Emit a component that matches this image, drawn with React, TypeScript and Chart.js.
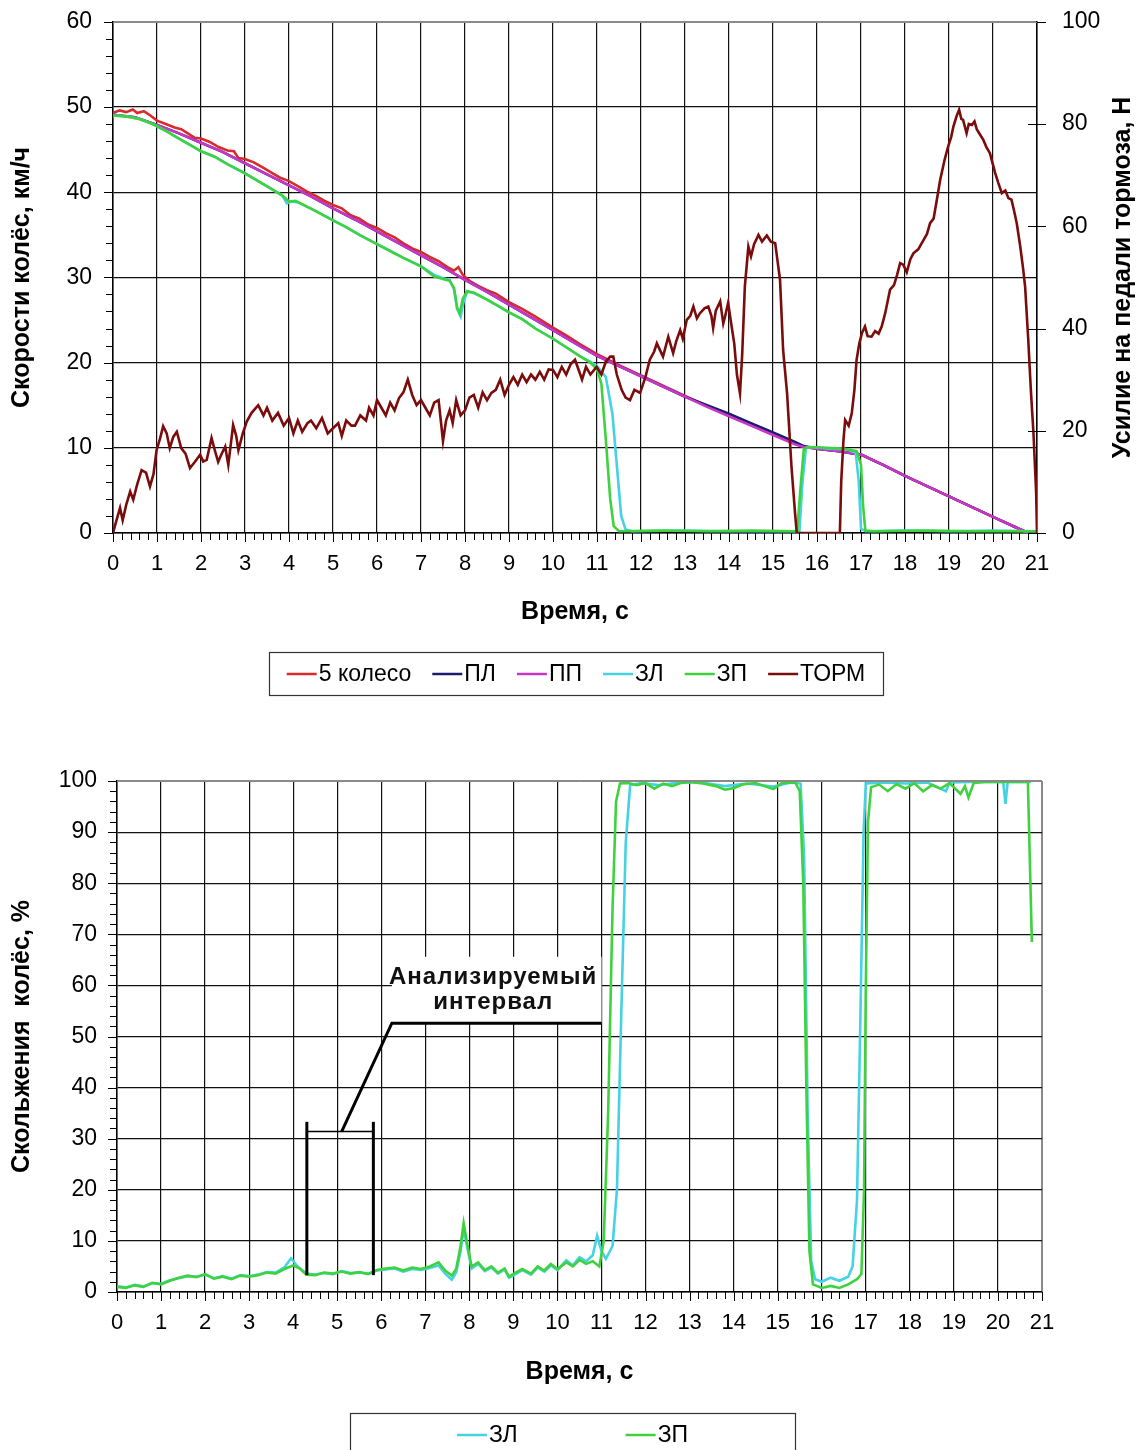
import React, { useEffect, useRef } from "react";
import { Chart, registerables } from "chart.js";

Chart.register(...registerables);

type Pt = [number, number];

// ---------------- axes ----------------
const TIME_RANGE: Pt = [0, 21];
const TIME_STEP = 1;
const TIME_MINOR = 0.2;
const SPEED_RANGE: Pt = [0, 60];
const SPEED_STEP = 10;
const SPEED_MINOR = 2;
const FORCE_RANGE: Pt = [0, 100];
const FORCE_STEP = 20;
const SLIP_RANGE: Pt = [0, 100];
const SLIP_STEP = 10;
const SLIP_MINOR = 2;

const X_TITLE = "Время, с";
const SPEED_TITLE = "Скорости колёс, км/ч";
const FORCE_TITLE = "Усилие на педали тормоза, Н";
const SLIP_TITLE = "Скольжения  колёс, %";

// ---------------- chart 1 series: [time s, value] ----------------
const WHEEL5: Pt[] = [
  [0, 49.3], [0.15, 49.6], [0.3, 49.4], [0.45, 49.7], [0.55, 49.3], [0.7, 49.5], [0.85, 49.0], [1.0, 48.4],
  [1.2, 48.0], [1.4, 47.6], [1.55, 47.4], [1.7, 46.9], [1.85, 46.4], [2.0, 46.3], [2.2, 45.9], [2.4, 45.3],
  [2.6, 44.9], [2.75, 44.8], [2.85, 44.0], [3.0, 43.9], [3.2, 43.5], [3.4, 42.9], [3.6, 42.3], [3.8, 41.7],
  [4.0, 41.3], [4.2, 40.7], [4.4, 40.1], [4.6, 39.6], [4.8, 39.0], [5.0, 38.5], [5.2, 38.1], [5.4, 37.3],
  [5.6, 36.9], [5.8, 36.2], [6.0, 35.8], [6.2, 35.2], [6.4, 34.7], [6.6, 34.0], [6.8, 33.4], [7.0, 33.0],
  [7.2, 32.4], [7.4, 31.9], [7.6, 31.2], [7.75, 30.8], [7.85, 31.2], [7.95, 30.3], [8.1, 29.6], [8.3, 29.0],
  [8.5, 28.5], [8.7, 28.1], [9.0, 27.1], [9.3, 26.3], [9.6, 25.4], [10.0, 24.1], [10.3, 23.2], [10.6, 22.2],
  [11.0, 21.0], [11.5, 19.7], [12, 18.5], [12.5, 17.3], [13, 16.1], [13.5, 14.9], [14, 13.8], [14.5, 12.7],
  [15, 11.6], [15.5, 10.5], [15.7, 10.1], [16, 9.9], [16.5, 9.6], [17, 9.2], [17.5, 8.0], [18, 6.7],
  [18.5, 5.5], [19, 4.3], [19.5, 3.1], [20, 1.9], [20.5, 0.7], [20.8, 0],
];

const FRONT_LEFT: Pt[] = [
  [0, 49.1], [0.5, 48.8], [1, 47.9], [1.5, 46.9], [2, 45.8], [2.5, 44.7], [3, 43.4], [3.5, 42.1], [4, 40.8],
  [4.5, 39.5], [5, 38.1], [5.5, 36.8], [6, 35.4], [6.5, 34.0], [7, 32.6], [7.5, 31.2], [8, 29.7], [8.5, 28.3],
  [9, 26.8], [9.5, 25.3], [10, 23.8], [10.5, 22.3], [11, 20.8], [11.5, 19.6], [12, 18.4], [12.5, 17.2],
  [13, 16.0], [13.5, 15.0], [14, 14.0], [14.5, 12.9], [15, 11.8], [15.5, 10.7], [15.7, 10.2], [16, 9.9],
  [16.5, 9.6], [17, 9.2], [17.5, 8.0], [18, 6.7], [18.5, 5.5], [19, 4.3], [19.5, 3.1], [20, 1.9], [20.5, 0.7],
  [20.8, 0],
];

const FRONT_RIGHT: Pt[] = [
  [0, 49.1], [0.5, 48.8], [1, 47.9], [1.5, 46.9], [2, 45.8], [2.5, 44.7], [3, 43.4], [3.5, 42.1], [4, 40.8],
  [4.5, 39.5], [5, 38.1], [5.5, 36.8], [6, 35.4], [6.5, 34.0], [7, 32.6], [7.5, 31.2], [8, 29.7], [8.5, 28.3],
  [9, 26.8], [9.5, 25.3], [10, 23.8], [10.5, 22.3], [11, 20.8], [11.5, 19.6], [12, 18.4], [12.5, 17.2],
  [13, 16.0], [13.5, 14.8], [14, 13.7], [14.5, 12.6], [15, 11.5], [15.5, 10.4], [15.7, 10.1], [16, 9.9],
  [16.5, 9.6], [17, 9.2], [17.5, 8.0], [18, 6.7], [18.5, 5.5], [19, 4.3], [19.5, 3.1], [20, 1.9], [20.5, 0.7],
  [20.8, 0],
];

const REAR_LEFT: Pt[] = [
  [0, 49.0], [0.3, 48.9], [0.6, 48.6], [0.9, 48.0], [1.2, 47.2], [1.5, 46.3], [1.8, 45.4], [2.0, 44.8],
  [2.3, 44.2], [2.6, 43.3], [3.0, 42.2], [3.3, 41.3], [3.6, 40.4], [3.85, 39.6], [3.95, 38.7], [4.05, 38.9],
  [4.2, 38.8], [4.6, 37.8], [5.0, 36.7], [5.3, 35.9], [5.6, 35.0], [6.0, 33.9], [6.3, 33.1], [6.6, 32.3],
  [7.0, 31.3], [7.3, 30.3], [7.5, 29.9], [7.65, 29.7], [7.75, 28.6], [7.82, 26.3], [7.9, 25.4], [7.97, 27.2],
  [8.05, 28.3], [8.2, 28.2], [8.5, 27.4], [8.8, 26.5], [9.0, 25.9], [9.3, 25.1], [9.6, 24.0], [10.0, 22.8],
  [10.3, 21.8], [10.6, 20.8], [10.85, 20.1], [11.0, 19.6], [11.2, 18.3], [11.35, 14.0], [11.45, 8.0],
  [11.55, 2.0], [11.65, 0.4], [11.8, 0.2], [13, 0.3], [14, 0.2], [15.6, 0.2], [15.67, 6.0], [15.75, 10.0],
  [15.9, 10.1], [16.3, 9.9], [16.7, 9.8], [16.88, 9.4], [16.95, 6.0], [17.0, 0.5], [17.1, 0.2], [18, 0.3],
  [19, 0.2], [20, 0.3], [21, 0.2],
];

const REAR_RIGHT: Pt[] = [
  [0, 49.0], [0.3, 48.9], [0.6, 48.6], [0.9, 48.0], [1.2, 47.2], [1.5, 46.3], [1.8, 45.4], [2.0, 44.8],
  [2.3, 44.2], [2.6, 43.3], [3.0, 42.2], [3.3, 41.3], [3.6, 40.4], [3.85, 39.6], [4.0, 38.9], [4.15, 39.0],
  [4.3, 38.6], [4.6, 37.8], [5.0, 36.7], [5.3, 35.9], [5.6, 35.0], [6.0, 33.9], [6.3, 33.1], [6.6, 32.3],
  [7.0, 31.3], [7.3, 30.1], [7.5, 29.8], [7.65, 29.6], [7.75, 28.8], [7.82, 26.5], [7.88, 25.8], [7.95, 27.5],
  [8.05, 28.4], [8.2, 28.2], [8.5, 27.4], [8.8, 26.5], [9.0, 25.9], [9.3, 25.1], [9.6, 24.0], [10.0, 22.8],
  [10.3, 21.8], [10.6, 20.8], [10.85, 20.0], [11.0, 19.2], [11.1, 17.5], [11.2, 11.0], [11.3, 4.0],
  [11.38, 0.8], [11.5, 0.2], [12.5, 0.3], [13.5, 0.2], [14.5, 0.3], [15.55, 0.2], [15.62, 5.0], [15.7, 9.8],
  [15.8, 10.1], [16.2, 10.0], [16.6, 9.9], [16.9, 9.6], [17.0, 8.0], [17.05, 3.0], [17.1, 0.3], [17.3, 0.2],
  [18.5, 0.3], [19.5, 0.2], [21, 0.2],
];

const BRAKE_FORCE: Pt[] = [
  [0, 0], [0.08, 2.5], [0.16, 4.9], [0.22, 2.5], [0.3, 5.5], [0.39, 8.1], [0.46, 6.5], [0.55, 9.5], [0.65, 12.3],
  [0.75, 11.8], [0.84, 9.1], [0.92, 11.5], [0.99, 16.2], [1.07, 18.5], [1.14, 20.9], [1.22, 19.5], [1.29, 16.6],
  [1.37, 18.8], [1.45, 19.8], [1.55, 16.6], [1.65, 15.5], [1.75, 12.7], [1.85, 13.8], [1.98, 15.3], [2.05, 14.0],
  [2.13, 14.3], [2.24, 18.6], [2.32, 16.0], [2.39, 13.9], [2.47, 15.5], [2.55, 16.9], [2.62, 13.3], [2.73, 21.1],
  [2.8, 19.0], [2.85, 16.2], [2.95, 19.5], [3.04, 21.8], [3.15, 23.5], [3.3, 25.0], [3.42, 23.0], [3.5, 24.5],
  [3.62, 22.0], [3.75, 23.5], [3.88, 21.0], [4.0, 22.5], [4.1, 19.5], [4.2, 22.0], [4.3, 19.8], [4.42, 21.5],
  [4.5, 22.0], [4.62, 20.5], [4.75, 22.5], [4.88, 19.5], [5.0, 20.5], [5.12, 21.5], [5.2, 19.0], [5.3, 22.0],
  [5.42, 21.0], [5.5, 21.0], [5.62, 23.0], [5.75, 22.0], [5.82, 24.5], [5.92, 23.0], [6.0, 26.0], [6.1, 24.5],
  [6.2, 23.0], [6.3, 25.5], [6.4, 24.0], [6.5, 26.4], [6.6, 27.5], [6.7, 30.0], [6.8, 27.0], [6.9, 25.0],
  [7.0, 26.0], [7.1, 24.5], [7.2, 23.0], [7.3, 25.5], [7.4, 26.0], [7.5, 18.0], [7.57, 22.0], [7.65, 24.0],
  [7.72, 21.5], [7.8, 26.0], [7.9, 23.0], [8.0, 24.0], [8.1, 26.5], [8.2, 27.0], [8.3, 24.5], [8.4, 27.5],
  [8.5, 26.0], [8.6, 27.4], [8.7, 28.0], [8.8, 30.0], [8.9, 27.0], [9.0, 29.0], [9.1, 30.5], [9.2, 29.0],
  [9.3, 31.0], [9.4, 29.5], [9.5, 31.0], [9.6, 30.0], [9.7, 31.5], [9.8, 30.0], [9.9, 32.0], [10.0, 31.9],
  [10.1, 30.5], [10.2, 32.5], [10.3, 31.0], [10.4, 33.0], [10.5, 33.9], [10.6, 31.5], [10.66, 30.0],
  [10.75, 32.5], [10.85, 31.0], [10.99, 32.5], [11.1, 31.0], [11.2, 33.5], [11.3, 34.5], [11.37, 34.5],
  [11.45, 31.0], [11.56, 28.0], [11.65, 26.5], [11.75, 26.0], [11.85, 28.0], [11.98, 27.4], [12.1, 30.5],
  [12.2, 33.9], [12.3, 35.5], [12.36, 37.1], [12.5, 34.5], [12.62, 38.4], [12.73, 35.2], [12.8, 37.5],
  [12.89, 39.7], [12.95, 38.0], [13.04, 41.7], [13.12, 42.5], [13.19, 44.3], [13.27, 42.0], [13.34, 43.0],
  [13.45, 44.0], [13.53, 44.3], [13.6, 42.5], [13.64, 40.1], [13.7, 43.5], [13.8, 45.3], [13.87, 41.0],
  [13.91, 42.3], [13.98, 45.0], [14.06, 40.4], [14.12, 37.0], [14.18, 31.0], [14.25, 27.3], [14.3, 35.0],
  [14.36, 48.2], [14.44, 56.0], [14.5, 54.1], [14.57, 56.5], [14.67, 58.3], [14.75, 57.0], [14.86, 58.2],
  [14.95, 57.0], [15.05, 56.7], [15.12, 52.1], [15.16, 49.5], [15.23, 35.8], [15.32, 27.3], [15.42, 13.0],
  [15.5, 4.0], [15.54, 0], [16.52, 0], [16.55, 10.0], [16.6, 18.0], [16.64, 22.1], [16.72, 21.0], [16.79, 23.4],
  [16.85, 28.0], [16.9, 33.9], [16.96, 37.0], [17.02, 39.1], [17.09, 40.4], [17.15, 38.5], [17.24, 38.4],
  [17.32, 39.5], [17.4, 39.0], [17.47, 40.4], [17.55, 43.0], [17.66, 47.6], [17.75, 48.5], [17.82, 50.5],
  [17.89, 52.8], [17.96, 52.5], [18.04, 51.0], [18.12, 53.5], [18.19, 54.7], [18.3, 55.5], [18.42, 57.3],
  [18.5, 58.5], [18.57, 60.6], [18.65, 61.5], [18.72, 65.0], [18.8, 69.1], [18.9, 73.0], [18.98, 75.6],
  [19.05, 77.5], [19.1, 79.5], [19.17, 81.5], [19.23, 82.8], [19.28, 81.0], [19.32, 80.8], [19.4, 78.2],
  [19.45, 80.0], [19.52, 79.8], [19.58, 80.5], [19.63, 79.0], [19.7, 78.0], [19.78, 76.9], [19.85, 75.5],
  [19.93, 74.3], [20.0, 72.0], [20.05, 70.4], [20.12, 68.5], [20.2, 66.5], [20.28, 67.0], [20.35, 65.5],
  [20.42, 65.2], [20.48, 63.0], [20.54, 60.6], [20.62, 56.0], [20.68, 52.0], [20.73, 48.2], [20.8, 38.0],
  [20.86, 28.0], [20.92, 19.5], [20.98, 8.0], [21.0, 0],
];

const SERIES1_LABELS = ["5 колесо", "ПЛ", "ПП", "ЗЛ", "ЗП", "ТОРМ"];
const SERIES1_COLORS = ["#d92b2b", "#1b1b70", "#c836c8", "#45d2e2", "#3fd23f", "#7a0c0c"];
const SERIES1_DATA = [WHEEL5, FRONT_LEFT, FRONT_RIGHT, REAR_LEFT, REAR_RIGHT, BRAKE_FORCE];
const SERIES1_AXIS = ["y", "y", "y", "y", "y", "y1"];
const SERIES1_ORDER = [6, 5, 4, 3, 2, 1];

// ---------------- chart 2 series: slip % ----------------
const SLIP_REAR_LEFT: Pt[] = [
  [0, 1.1], [0.2, 0.9], [0.4, 1.4], [0.6, 1.1], [0.8, 1.7], [1.0, 1.6], [1.2, 2.3], [1.4, 2.7], [1.6, 3.1],
  [1.8, 3.0], [2.0, 3.4], [2.2, 2.7], [2.4, 3.1], [2.6, 2.6], [2.8, 3.3], [3.0, 3.1], [3.2, 3.4], [3.4, 3.9],
  [3.6, 3.8], [3.8, 4.8], [3.95, 6.6], [4.1, 5.0], [4.3, 3.6], [4.5, 3.4], [4.7, 3.7], [4.9, 3.5], [5.1, 4.1],
  [5.3, 3.7], [5.5, 3.8], [5.7, 3.6], [5.9, 4.2], [6.1, 4.4], [6.3, 4.6], [6.5, 4.0], [6.7, 4.5], [6.9, 4.3],
  [7.1, 4.7], [7.3, 5.2], [7.45, 3.6], [7.6, 2.4], [7.7, 3.8], [7.8, 8.0], [7.87, 12.3], [7.95, 8.8],
  [8.05, 4.6], [8.2, 5.5], [8.35, 4.1], [8.5, 4.8], [8.65, 3.6], [8.8, 4.4], [8.9, 2.8], [9.05, 3.5],
  [9.2, 4.3], [9.4, 3.4], [9.55, 4.8], [9.7, 4.0], [9.85, 5.2], [10.0, 4.3], [10.2, 6.2], [10.35, 5.2],
  [10.5, 6.8], [10.65, 6.0], [10.8, 7.2], [10.9, 11.0], [11.0, 8.0], [11.1, 6.5], [11.25, 9.0], [11.35, 20],
  [11.45, 55], [11.55, 88], [11.65, 99.2], [11.9, 99.6], [12.3, 99.2], [12.7, 99.6], [13.2, 99.8],
  [13.8, 99.0], [14.3, 99.5], [14.9, 98.9], [15.3, 99.7], [15.52, 99.5], [15.6, 85], [15.68, 35], [15.76, 6],
  [15.85, 2.5], [16.0, 2.0], [16.2, 2.8], [16.4, 2.2], [16.6, 3.0], [16.7, 5.0], [16.8, 18], [16.88, 55],
  [16.95, 90], [17.0, 99.5], [17.4, 99.7], [17.9, 99.5], [18.4, 99.7], [18.82, 98.0], [18.9, 99.7],
  [19.4, 99.8], [20.0, 99.8], [20.12, 99.8], [20.17, 95.5], [20.22, 99.8], [20.75, 99.8],
];

const SLIP_REAR_RIGHT: Pt[] = [
  [0, 1.0], [0.2, 0.8], [0.4, 1.3], [0.6, 1.0], [0.8, 1.8], [1.0, 1.5], [1.2, 2.2], [1.4, 2.8], [1.6, 3.2],
  [1.8, 2.9], [2.0, 3.5], [2.2, 2.6], [2.4, 3.0], [2.6, 2.5], [2.8, 3.2], [3.0, 3.0], [3.2, 3.3], [3.4, 3.8],
  [3.6, 3.6], [3.8, 4.5], [4.0, 5.2], [4.15, 4.6], [4.3, 3.4], [4.5, 3.3], [4.7, 3.8], [4.9, 3.6], [5.1, 4.0],
  [5.3, 3.6], [5.5, 3.9], [5.7, 3.5], [5.9, 4.3], [6.1, 4.6], [6.3, 4.8], [6.5, 4.2], [6.7, 4.8], [6.9, 4.5],
  [7.1, 5.0], [7.3, 5.8], [7.45, 4.2], [7.6, 3.2], [7.7, 4.5], [7.8, 9.0], [7.87, 13.5], [7.95, 9.5],
  [8.05, 5.0], [8.2, 5.8], [8.35, 4.3], [8.5, 5.0], [8.65, 3.8], [8.8, 4.6], [8.9, 3.0], [9.05, 3.8],
  [9.2, 4.5], [9.4, 3.6], [9.55, 5.0], [9.7, 4.2], [9.85, 5.5], [10.0, 4.5], [10.2, 5.8], [10.35, 5.0],
  [10.5, 6.3], [10.65, 5.5], [10.8, 6.0], [10.95, 5.0], [11.05, 10], [11.15, 35], [11.25, 75], [11.33, 96],
  [11.42, 99.5], [11.6, 99.6], [11.8, 99.2], [12.0, 99.6], [12.2, 98.5], [12.4, 99.5], [12.6, 99.0],
  [12.8, 99.6], [13.0, 99.8], [13.3, 99.5], [13.6, 99.0], [13.8, 98.3], [14.0, 98.6], [14.2, 99.3],
  [14.5, 99.6], [14.7, 99.0], [14.9, 98.4], [15.1, 99.6], [15.4, 99.7], [15.5, 98], [15.58, 80], [15.65, 40],
  [15.72, 8], [15.8, 1.5], [16.0, 0.8], [16.2, 1.2], [16.4, 0.8], [16.6, 1.5], [16.8, 2.5], [16.9, 3.5],
  [16.96, 20], [17.0, 60], [17.05, 92], [17.12, 98.8], [17.3, 99.3], [17.5, 98.0], [17.7, 99.4], [17.9, 98.5],
  [18.1, 99.6], [18.3, 98.0], [18.5, 99.2], [18.7, 98.5], [18.9, 99.6], [19.15, 97.5], [19.25, 99],
  [19.33, 96.8], [19.45, 99.6], [19.7, 99.8], [20.0, 99.8], [20.3, 99.8], [20.68, 99.8], [20.77, 68.5],
];

const SERIES2_LABELS = ["ЗЛ", "ЗП"];
const SERIES2_COLORS = ["#45d2e2", "#3fd23f"];
const SERIES2_DATA = [SLIP_REAR_LEFT, SLIP_REAR_RIGHT];

// annotation (data space of chart 2: time s, slip %)
const ANNOT_BARS_X = [4.31, 5.82];
const ANNOT_BARS_Y: Pt = [3.3, 33.3];
const ANNOT_JOIN_Y = 31.4;
const ANNOT_LEADER: Pt[] = [[5.1, 31.4], [6.24, 52.6], [11.0, 52.6]];
const ANNOT_TEXT = ["Анализируемый", "интервал"];
const ANNOT_TEXT_X = 8.54;
const ANNOT_TEXT_Y = [61.6, 56.6];
const ANNOT_TEXT_BG: Pt[] = [[6.24, 65.6], [11.0, 52.6]];

// ---------------- helpers ----------------
const FONT = "'Liberation Sans', Arial, sans-serif";
const CHART1_SHIFT = 17; // canvas 1 starts this many px above the page top

const toXY = (pts: Pt[]) => pts.map(([x, y]) => ({ x, y }));

function line(ctx: CanvasRenderingContext2D, x1: number, y1: number, x2: number, y2: number) {
  ctx.beginPath();
  ctx.moveTo(x1, y1);
  ctx.lineTo(x2, y2);
  ctx.stroke();
}

type DecoCfg = {
  xMinor: number;
  yMinor: number;
  crossTicksY1?: boolean;
  rightTitle?: string;
  rightTitleX?: number;
  greyRight?: boolean;
  legend: { x: number; y: number; w: number; h: number; gap: number };
  annotation?: boolean;
};

function makeDeco(cfg: DecoCfg) {
  return {
    id: "deco",
    afterDatasetsDraw(chart: any) {
      if (!cfg.annotation) return;
      const { ctx, scales } = chart;
      const sx = scales.x;
      const sy = scales.y;
      const X = (v: number) => sx.getPixelForValue(v);
      const Y = (v: number) => sy.getPixelForValue(v);
      ctx.save();
      ctx.fillStyle = "#fff";
      const [[bx1, by1], [bx2, by2]] = ANNOT_TEXT_BG;
      ctx.fillRect(X(bx1), Y(by1), X(bx2) - X(bx1), Y(by2) - Y(by1));
      ctx.strokeStyle = "#000";
      ctx.lineCap = "butt";
      ctx.lineWidth = 3;
      for (const bx of ANNOT_BARS_X) line(ctx, X(bx), Y(ANNOT_BARS_Y[0]), X(bx), Y(ANNOT_BARS_Y[1]));
      ctx.lineWidth = 1.5;
      line(ctx, X(ANNOT_BARS_X[0]), Y(ANNOT_JOIN_Y), X(ANNOT_BARS_X[1]), Y(ANNOT_JOIN_Y));
      ctx.lineWidth = 3;
      ctx.beginPath();
      ANNOT_LEADER.forEach(([lx, ly], i) => (i ? ctx.lineTo(X(lx), Y(ly)) : ctx.moveTo(X(lx), Y(ly))));
      ctx.stroke();
      ctx.fillStyle = "#111";
      ctx.font = `bold 24px ${FONT}`;
      (ctx as any).letterSpacing = "1px";
      ctx.textAlign = "center";
      ctx.textBaseline = "middle";
      ANNOT_TEXT.forEach((t, i) => ctx.fillText(t, X(ANNOT_TEXT_X), Y(ANNOT_TEXT_Y[i])));
      ctx.restore();
    },
    afterDraw(chart: any) {
      const { ctx, chartArea: a, scales } = chart;
      ctx.save();
      ctx.strokeStyle = "#000";
      ctx.lineWidth = 1;
      const sx = scales.x;
      const n = Math.round((sx.max - sx.min) / cfg.xMinor);
      const perMajor = Math.round(1 / cfg.xMinor);
      for (let i = 0; i <= n; i++) {
        const px = Math.round(sx.getPixelForValue(sx.min + i * cfg.xMinor)) + 0.5;
        line(ctx, px, a.bottom, px, a.bottom + (i % perMajor === 0 ? 9 : 7));
      }
      const sy = scales.y;
      const m = Math.round((sy.max - sy.min) / cfg.yMinor);
      for (let i = 0; i <= m; i++) {
        const py = Math.round(sy.getPixelForValue(sy.min + i * cfg.yMinor)) + 0.5;
        const major = i % 5 === 0;
        line(ctx, a.left - (major ? 9 : 7), py, a.left, py);
      }
      if (cfg.crossTicksY1 && scales.y1) {
        const s1 = scales.y1;
        s1.ticks.forEach((t: any) => {
          const py = Math.round(s1.getPixelForValue(t.value)) + 0.5;
          line(ctx, a.right - 9, py, a.right + 9, py);
        });
      }
      ctx.strokeStyle = "#8a8a8a";
      line(ctx, a.left, Math.round(a.top) + 0.5, a.right, Math.round(a.top) + 0.5);
      if (cfg.greyRight) line(ctx, Math.round(a.right) + 0.5, a.top, Math.round(a.right) + 0.5, a.bottom);
      if (cfg.rightTitle) {
        ctx.save();
        ctx.translate(cfg.rightTitleX || 0, (a.top + a.bottom) / 2);
        ctx.rotate(-Math.PI / 2);
        ctx.fillStyle = "#000";
        ctx.font = `bold 25px ${FONT}`;
        ctx.textAlign = "center";
        ctx.textBaseline = "middle";
        ctx.fillText(cfg.rightTitle, 0, 0);
        ctx.restore();
      }
      const L = cfg.legend;
      ctx.strokeStyle = "#333";
      ctx.lineWidth = 1.2;
      ctx.strokeRect(L.x + 0.5, L.y + 0.5, L.w, L.h);
      ctx.font = `23px ${FONT}`;
      const ds = chart.data.datasets;
      const lineLen = 30;
      const widths = ds.map((d: any) => lineLen + 2 + ctx.measureText(d.label).width);
      const total = widths.reduce((s: number, w: number) => s + w, 0) + L.gap * (ds.length - 1);
      let x = L.x + L.w / 2 - total / 2;
      const cy = L.y + 22;
      ctx.textBaseline = "middle";
      ctx.textAlign = "left";
      ds.forEach((d: any, i: number) => {
        ctx.strokeStyle = d.borderColor;
        ctx.lineWidth = 2.5;
        line(ctx, x, cy, x + lineLen, cy);
        ctx.fillStyle = "#000";
        ctx.fillText(d.label, x + lineLen + 2, cy + 1);
        x += widths[i] + L.gap;
      });
      ctx.restore();
    },
  };
}

const tickFont = { family: FONT, size: 23 };
const xTickFont = { family: FONT, size: 22 };
const titleFont = { family: FONT, size: 25, weight: "bold" as const };

function xScale(height: number, titlePadBottom: number, greyRight: boolean) {
  return {
    type: "linear" as const,
    min: TIME_RANGE[0],
    max: TIME_RANGE[1],
    afterFit: (s: any) => {
      s.height = height;
    },
    ticks: { stepSize: TIME_STEP, autoSkip: false, maxRotation: 0, padding: 18, color: "#000", font: xTickFont },
    grid: {
      drawTicks: false,
      lineWidth: 1.2,
      color: (c: any) => (greyRight && c.tick && c.tick.value === TIME_RANGE[1] ? "#8a8a8a" : "#111"),
    },
    border: { color: "#000", width: 1.5 },
    title: { display: true, text: X_TITLE, color: "#000", font: titleFont, padding: { top: 0, bottom: titlePadBottom } },
  };
}

function config1(): any {
  return {
    type: "line",
    data: {
      datasets: SERIES1_LABELS.map((label, i) => ({
        label,
        data: toXY(SERIES1_DATA[i]),
        borderColor: SERIES1_COLORS[i],
        backgroundColor: SERIES1_COLORS[i],
        borderWidth: 2.6,
        pointRadius: 0,
        tension: 0,
        fill: false,
        yAxisID: SERIES1_AXIS[i],
        order: SERIES1_ORDER[i],
      })),
    },
    options: {
      animation: false,
      responsive: false,
      devicePixelRatio: 1,
      parsing: false,
      layout: { padding: { top: 0, left: 0, right: 0, bottom: 0 } },
      plugins: { legend: { display: false }, tooltip: { enabled: false } },
      scales: {
        x: xScale(187, 93, false),
        y: {
          position: "left",
          min: SPEED_RANGE[0],
          max: SPEED_RANGE[1],
          afterFit: (s: any) => {
            s.width = 113;
          },
          ticks: { stepSize: SPEED_STEP, padding: 21, color: "#000", font: tickFont },
          grid: { drawTicks: false, lineWidth: 1.2, color: (c: any) => (c.tick && c.tick.value === SPEED_RANGE[1] ? "#8a8a8a" : "#111") },
          border: { color: "#000", width: 1.5 },
          title: { display: true, text: SPEED_TITLE, color: "#000", font: titleFont, padding: { top: 7, bottom: 0 } },
        },
        y1: {
          position: "right",
          min: FORCE_RANGE[0],
          max: FORCE_RANGE[1],
          afterFit: (s: any) => {
            s.width = 107;
          },
          ticks: { stepSize: FORCE_STEP, padding: 25, color: "#000", font: tickFont },
          grid: { drawOnChartArea: false, drawTicks: false },
          border: { color: "#000", width: 1.5 },
        },
      },
    },
    plugins: [
      makeDeco({
        xMinor: TIME_MINOR,
        yMinor: SPEED_MINOR,
        crossTicksY1: true,
        rightTitle: FORCE_TITLE,
        rightTitleX: 1123,
        legend: { x: 269, y: 652 + CHART1_SHIFT, w: 614, h: 43, gap: 21 },
      }),
    ],
  };
}

function config2(): any {
  return {
    type: "line",
    data: {
      datasets: SERIES2_LABELS.map((label, i) => ({
        label,
        data: toXY(SERIES2_DATA[i]),
        borderColor: SERIES2_COLORS[i],
        backgroundColor: SERIES2_COLORS[i],
        borderWidth: 2.6,
        pointRadius: 0,
        tension: 0,
        fill: false,
        order: 2 - i,
      })),
    },
    options: {
      animation: false,
      responsive: false,
      devicePixelRatio: 1,
      parsing: false,
      layout: { padding: { top: 51, left: 0, right: 102, bottom: 0 } },
      plugins: { legend: { display: false }, tooltip: { enabled: false } },
      scales: {
        x: xScale(158, 63, true),
        y: {
          position: "left",
          min: SLIP_RANGE[0],
          max: SLIP_RANGE[1],
          afterFit: (s: any) => {
            s.width = 117;
          },
          ticks: { stepSize: SLIP_STEP, padding: 20, color: "#000", font: tickFont },
          grid: { drawTicks: false, lineWidth: 1.2, color: (c: any) => (c.tick && c.tick.value === SLIP_RANGE[1] ? "#8a8a8a" : "#111") },
          border: { color: "#000", width: 1.5 },
          title: { display: true, text: SLIP_TITLE, color: "#000", font: titleFont, padding: { top: 7, bottom: 0 } },
        },
      },
    },
    plugins: [
      makeDeco({
        xMinor: TIME_MINOR,
        yMinor: SLIP_MINOR,
        greyRight: true,
        legend: { x: 350, y: 683, w: 445, h: 60, gap: 108 },
        annotation: true,
      }),
    ],
  };
}

export default function App() {
  const c1 = useRef<HTMLCanvasElement>(null);
  const c2 = useRef<HTMLCanvasElement>(null);
  useEffect(() => {
    const ch1 = new Chart(c1.current as HTMLCanvasElement, config1());
    const ch2 = new Chart(c2.current as HTMLCanvasElement, config2());
    return () => {
      ch1.destroy();
      ch2.destroy();
    };
  }, []);
  const h1 = 720 + CHART1_SHIFT;
  return (
    <div style={{ position: "absolute", left: 0, top: 0, width: 1144, height: 1450, background: "#fff", overflow: "hidden" }}>
      <canvas ref={c1} width={1144} height={h1} style={{ position: "absolute", left: 0, top: -CHART1_SHIFT, width: 1144, height: h1 }} />
      <canvas ref={c2} width={1144} height={720} style={{ position: "absolute", left: 0, top: 730, width: 1144, height: 720 }} />
    </div>
  );
}
